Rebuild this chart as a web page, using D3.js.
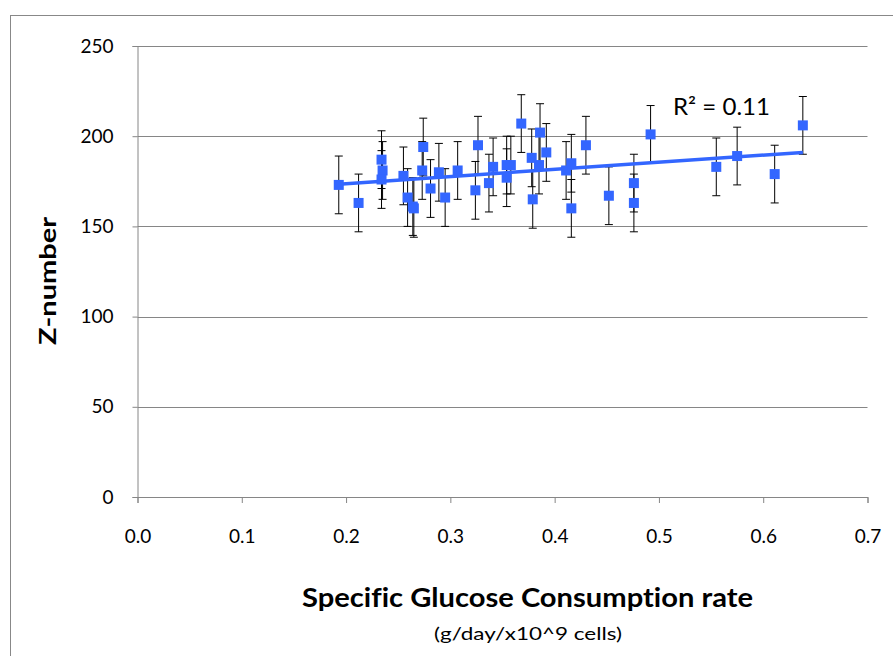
<!DOCTYPE html>
<html>
<head>
<meta charset="utf-8">
<script src="https://cdn.jsdelivr.net/npm/d3@7/dist/d3.min.js"></script>
<style>
  html, body { margin: 0; padding: 0; background: #fff; }
  svg { display: block; font-family: Lato, "Open Sans", sans-serif; font-variant-ligatures: none; }
</style>
</head>
<body>
<svg id="chart" width="893" height="656"></svg>
<script>
// Specific glucose consumption rate (g/day/x10^9 cells)
const glucoseRate = [
  0.193, 0.212, 0.234, 0.235, 0.234, 0.255, 0.259, 0.264, 0.265, 0.274,
  0.273, 0.281, 0.289, 0.295, 0.307, 0.3265, 0.324, 0.341, 0.337, 0.354,
  0.358, 0.354, 0.368, 0.378, 0.379, 0.386, 0.385, 0.392, 0.411, 0.416,
  0.416, 0.430, 0.452, 0.476, 0.476, 0.492, 0.555, 0.575, 0.611, 0.638
];
// Z-number for each culture
const zNumber = [
  173, 163, 187, 181, 176, 178, 166, 161, 160, 194,
  181, 171, 180, 166, 181, 195, 170, 183, 174, 184,
  184, 177, 207, 188, 165, 202, 184, 191, 181, 185,
  160, 195, 167, 174, 163, 201, 183, 189, 179, 206
];
// Error bar half-width (Z-number units)
const zError = glucoseRate.map(() => 16);

const xTicks = [0, 0.1, 0.2, 0.3, 0.4, 0.5, 0.6, 0.7];
const yTicks = [0, 50, 100, 150, 200, 250];
const r2Label = "R\u00B2 = 0.11";

const svg = d3.select("#chart");
const plotLeft = 137.5, plotRight = 867.5, plotTop = 46, plotBottom = 497;

const x = d3.scaleLinear().domain([0, 0.7]).range([plotLeft, plotRight]);
const y = d3.scaleLinear().domain([0, 250]).range([plotBottom, plotTop]);

// Chart frame
svg.append("rect")
  .attr("x", 10.5).attr("y", 15.5)
  .attr("width", 900).attr("height", 700)
  .attr("fill", "none").attr("stroke", "#888").attr("stroke-width", 1);

// Horizontal gridlines
svg.append("g").selectAll("line")
  .data(yTicks.filter(d => d > 0))
  .join("line")
  .attr("x1", plotLeft).attr("x2", plotRight)
  .attr("y1", d => Math.round(y(d)) + 0.5).attr("y2", d => Math.round(y(d)) + 0.5)
  .attr("stroke", "#868686").attr("stroke-width", 1);

// Y axis
const yAxis = svg.append("g")
  .attr("transform", `translate(${plotLeft},0)`)
  .call(d3.axisLeft(y).tickValues(yTicks).tickSize(5).tickPadding(19).tickFormat(d3.format("d")));
yAxis.selectAll("path, line").attr("stroke", "#868686");
yAxis.selectAll("text").attr("font-size", 19).attr("fill", "#000")
  .attr("font-family", "Lato, sans-serif");

// X axis
const xAxis = svg.append("g")
  .attr("transform", `translate(0,${plotBottom})`)
  .call(d3.axisBottom(x).tickValues(xTicks).tickSize(6).tickPadding(27).tickFormat(d3.format(".1f")));
xAxis.selectAll("path, line").attr("stroke", "#868686");
xAxis.selectAll("text").attr("font-size", 19).attr("fill", "#000")
  .attr("font-family", "Lato, sans-serif");

// Error bars
const pts = glucoseRate.map((g, i) => ({ g, z: zNumber[i], e: zError[i] }));
const eb = svg.append("g").attr("stroke", "#000").attr("stroke-width", 1);
eb.selectAll("line.v").data(pts).join("line").attr("class", "v")
  .attr("x1", d => x(d.g)).attr("x2", d => x(d.g))
  .attr("y1", d => y(d.z + d.e)).attr("y2", d => y(d.z - d.e));
eb.selectAll("line.t").data(pts).join("line").attr("class", "t")
  .attr("x1", d => x(d.g) - 4).attr("x2", d => x(d.g) + 4)
  .attr("y1", d => y(d.z + d.e)).attr("y2", d => y(d.z + d.e));
eb.selectAll("line.b").data(pts).join("line").attr("class", "b")
  .attr("x1", d => x(d.g) - 4).attr("x2", d => x(d.g) + 4)
  .attr("y1", d => y(d.z - d.e)).attr("y2", d => y(d.z - d.e));

// Linear trendline (least squares)
const mx = d3.mean(glucoseRate), my = d3.mean(zNumber);
const sxy = d3.sum(pts, d => (d.g - mx) * (d.z - my));
const sxx = d3.sum(pts, d => (d.g - mx) ** 2);
const slope = sxy / sxx, intercept = my - slope * mx;
const [gMin, gMax] = d3.extent(glucoseRate);
svg.append("line")
  .attr("x1", x(gMin)).attr("y1", y(intercept + slope * gMin))
  .attr("x2", x(gMax)).attr("y2", y(intercept + slope * gMax))
  .attr("stroke", "#3366ff").attr("stroke-width", 3.5);

// Markers
const s = 10;
svg.append("g").selectAll("rect").data(pts).join("rect")
  .attr("x", d => x(d.g) - s / 2).attr("y", d => y(d.z) - s / 2)
  .attr("width", s).attr("height", s)
  .attr("fill", "#3366ff");

// R² annotation
svg.append("text")
  .attr("x", 673).attr("y", 115)
  .attr("font-size", 23).attr("font-family", "Lato, sans-serif")
  .attr("textLength", 97).attr("lengthAdjust", "spacingAndGlyphs")
  .text(r2Label);

// Axis titles
svg.append("text")
  .attr("transform", "translate(56,281) rotate(-90)")
  .attr("text-anchor", "middle")
  .attr("font-size", 23).attr("font-weight", "bold")
  .attr("textLength", 128).attr("lengthAdjust", "spacingAndGlyphs")
  .text("Z-number");

svg.append("text")
  .attr("x", 527.5).attr("y", 607)
  .attr("text-anchor", "middle")
  .attr("font-size", 26).attr("font-weight", "bold")
  .attr("textLength", 451).attr("lengthAdjust", "spacingAndGlyphs")
  .text("Specific Glucose Consumption rate");

svg.append("text")
  .attr("x", 528).attr("y", 640)
  .attr("text-anchor", "middle")
  .attr("font-size", 17)
  .attr("textLength", 188).attr("lengthAdjust", "spacingAndGlyphs")
  .text("(g/day/x10^9 cells)");
</script>
</body>
</html>
